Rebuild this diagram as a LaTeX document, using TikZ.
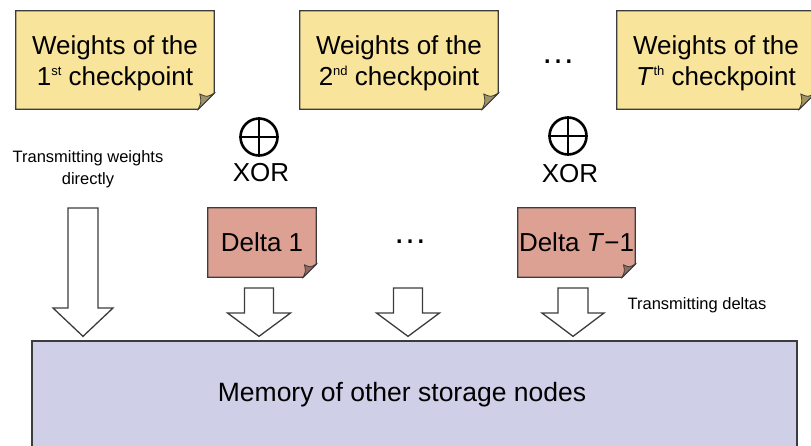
\documentclass[tikz,border=0pt]{standalone}
\usepackage{fontspec}
\setmainfont{Liberation Sans}
\usetikzlibrary{calc,backgrounds}

\definecolor{noteyellow}{HTML}{F8E49A}
\definecolor{deltared}{HTML}{DDA194}
\definecolor{memblue}{HTML}{CFCFE7}
\definecolor{edge}{HTML}{3C3C3C}

% small raised ordinal suffix
\newcommand\ordsup[1]{\raisebox{0.72ex}{\fontsize{13}{13}\selectfont #1}}
% widely spaced ellipsis
\newcommand\wdots{{\fontsize{34}{34}\selectfont\dots}}

% sticky-note outline with a curled bottom-right corner, drawn behind node #1
\newcommand\notecorner[3]{%
  \path[fill=#2, draw=edge, line width=1.3pt]
    (#1.north west) -- (#1.north east) -- ($(#1.south east)+(0,-#3)$)
    -- ($(#1.south east)+(-#3,0)$) -- (#1.south west) -- cycle;
  \path[fill=#2!65!black, draw=edge, line width=0.8pt]
    ($(#1.south east)+(-#3,0)$)
    .. controls ($(#1.south east)+(-0.8*#3,-0.45*#3)$) .. ($(#1.south east)+(-0.9*#3,-0.95*#3)$)
    .. controls ($(#1.south east)+(-0.45*#3,-0.75*#3)$) .. ($(#1.south east)+(0,-#3)$) -- cycle;
}

% hollow block arrow from coordinate #1 down to node #5
% #2 shaft half-width, #3 head half-width, #4 shaft length
\newcommand\fatarrow[5]{%
  \draw[fatline] ($(#1)+(-#2,0)$) -- ($(#1)+(#2,0)$) -- ($(#1)+(#2,#4)$)
    -- ($(#1)+(#3,#4)$) -- ($(#1 |- #5.north)+(0,-4)$)
    -- ($(#1)+(-#3,#4)$) -- ($(#1)+(-#2,#4)$) -- cycle;
}

\begin{document}
\begin{tikzpicture}[x=1pt,y=-1pt,
  every node/.style={inner sep=0pt, font=\fontsize{26}{31}\selectfont},
  notebox/.style={minimum width=198pt, minimum height=98pt, align=center},
  deltabox/.style={minimum height=69pt, align=center},
  xorsym/.style={circle, draw=black, line width=2.6pt, minimum size=37pt},
  captext/.style={font=\fontsize{16.5}{22}\selectfont, align=center},
  fatline/.style={draw=edge, fill=white, line width=1.3pt, line join=miter}]

\useasboundingbox (0,0) rectangle (811,445);

% checkpoint weights
\node[notebox] (w1) at (115,60) {\rule{0pt}{25pt}Weights of the\\1\ordsup{st} checkpoint};
\node[notebox] (w2) at (399,60) {\rule{0pt}{25pt}Weights of the\\2\ordsup{nd} checkpoint};
\node[notebox] (w3) at (716,60) {\rule{0pt}{25pt}Weights of the\\\textit{T}\ordsup{th} checkpoint};
\node (dots1) at (558,62) {\wdots};

% XOR operators
\node[xorsym] (x1) at (259,137) {};
\draw[line width=2.6pt] (x1.north) -- (x1.south) (x1.west) -- (x1.east);
\node (xl1) at (261,173) {XOR};
\node[xorsym] (x2) at (568,136) {};
\draw[line width=2.6pt] (x2.north) -- (x2.south) (x2.west) -- (x2.east);
\node (xl2) at (570,174) {XOR};

% deltas
\node[deltabox, minimum width=108pt] (d1) at (262,242.5) {Delta 1};
\node[deltabox, minimum width=117pt] (d2) at (576.5,242.5) {Delta \textit{T}−1};
\node (dots2) at (410,242) {\wdots};

% storage memory
\node[fill=memblue, draw=edge, line width=1.3pt, minimum width=765pt, minimum height=112pt] (mem) at (414.5,397) {};
\node[font=\fontsize{26.5}{31}\selectfont] (memtext) at (402,395) {Memory of other storage nodes};

% captions
\node[captext] (cap1) at (88,169) {Transmitting weights\\directly};
\node[captext] (cap2) at (697,305) {Transmitting deltas};

% note bodies behind their texts
\begin{scope}[on background layer]
  \notecorner{w1}{noteyellow}{16}
  \notecorner{w2}{noteyellow}{16}
  \notecorner{w3}{noteyellow}{16}
  \notecorner{d1}{deltared}{13}
  \notecorner{d2}{deltared}{13}
\end{scope}

% transfer arrows
\coordinate (a0) at (83,208);
\coordinate (a1) at (259,288);
\coordinate (a2) at (408,288);
\coordinate (a3) at (573,288);
\fatarrow{a0}{15}{30}{100}{mem}
\fatarrow{a1}{14.5}{31.5}{25}{mem}
\fatarrow{a2}{14.5}{31.5}{25}{mem}
\fatarrow{a3}{15}{31}{25}{mem}
\end{tikzpicture}
\end{document}
